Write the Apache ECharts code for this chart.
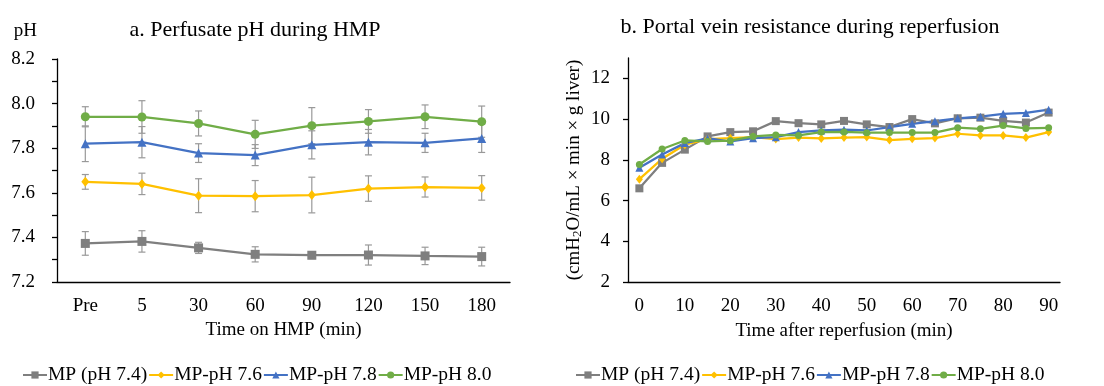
<!DOCTYPE html>
<html>
<head>
<meta charset="utf-8">
<script src="https://cdn.jsdelivr.net/npm/echarts@6/dist/echarts.min.js"></script>
<style>
html,body{margin:0;padding:0;background:#fff;}
#chart{width:1104px;height:386px;}
</style>
</head>
<body>
<div id="chart"></div>
<script>
// ---------- data ----------
const seriesNames = ['MP (pH 7.4)', 'MP-pH 7.6', 'MP-pH 7.8', 'MP-pH 8.0'];

// a. Perfusate pH during HMP
const hmpCategories = ['Pre', '5', '30', '60', '90', '120', '150', '180'];
const ph74 = [7.373, 7.382, 7.353, 7.324, 7.320, 7.321, 7.317, 7.314];
const ph74Err = [0.053, 0.048, 0.025, 0.034, 0.015, 0.045, 0.039, 0.042];
const ph76 = [7.649, 7.640, 7.587, 7.585, 7.590, 7.619, 7.626, 7.622];
const ph76Err = [0.033, 0.048, 0.076, 0.070, 0.080, 0.057, 0.045, 0.055];
const ph78 = [7.820, 7.827, 7.778, 7.769, 7.815, 7.827, 7.824, 7.844];
const ph78Err = [0.080, 0.070, 0.042, 0.047, 0.063, 0.057, 0.043, 0.063];
const ph80 = [7.941, 7.940, 7.911, 7.862, 7.901, 7.920, 7.941, 7.919];
const ph80Err = [0.045, 0.073, 0.056, 0.063, 0.081, 0.053, 0.053, 0.070];
const phTickLabels = [7.2, 7.4, 7.6, 7.8, 8.0, 8.2];

// b. Portal vein resistance during reperfusion
const reperfCategories = ['0','5','10','15','20','25','30','35','40','45','50','55','60','65','70','75','80','85','90'];
const res74 = [6.60, 7.85, 8.50, 9.15, 9.36, 9.40, 9.90, 9.80, 9.74, 9.91, 9.74, 9.61, 10.00, 9.79, 10.04, 10.07, 9.91, 9.83, 10.32];
const res76 = [7.05, 8.05, 8.74, 9.02, 9.06, 9.12, 9.02, 9.09, 9.05, 9.09, 9.12, 8.97, 9.03, 9.07, 9.28, 9.20, 9.20, 9.09, 9.36];
const res78 = [7.61, 8.26, 8.82, 9.06, 8.90, 9.06, 9.11, 9.36, 9.44, 9.48, 9.44, 9.60, 9.77, 9.90, 10.04, 10.12, 10.26, 10.30, 10.46];
const res80 = [7.77, 8.53, 8.95, 8.90, 8.94, 9.15, 9.22, 9.20, 9.36, 9.37, 9.33, 9.34, 9.34, 9.34, 9.58, 9.52, 9.68, 9.54, 9.57];
const resTickLabels = [2, 4, 6, 8, 10, 12];

// ---------- style ----------
const FONT = '"Liberation Serif", "Times New Roman", serif';
const colors = ['#7f7f7f', '#ffc000', '#4472c4', '#70ad47'];
const symbols = ['rect', 'diamond', 'triangle', 'circle'];
const symSizeA = [9, [8, 10], 9, 9];
const symSizeB = [8, [7, 9], 8, 7];

function lineSeries(name, data, i, axisIdx, sizes) {
  return {
    name: name, type: 'line', data: data,
    xAxisIndex: axisIdx, yAxisIndex: axisIdx,
    symbol: symbols[i], symbolSize: sizes[i],
    lineStyle: { color: colors[i], width: 2.25 },
    itemStyle: { color: colors[i] },
    emphasis: { disabled: true },
    animation: false, z: 3
  };
}

function errSeries(means, errs) {
  return {
    type: 'custom', xAxisIndex: 0, yAxisIndex: 0,
    data: means.map((m, i) => [i, m, errs[i]]),
    encode: { x: 0, y: 1 },
    animation: false, silent: true, z: 2,
    renderItem: function (params, api) {
      const x = api.value(0), m = api.value(1), e = api.value(2);
      const t = api.coord([x, m + e]), b = api.coord([x, m - e]);
      const hw = 3.5;
      const st = { stroke: '#999999', lineWidth: 1.2 };
      return { type: 'group', children: [
        { type: 'line', shape: { x1: t[0], y1: t[1], x2: b[0], y2: b[1] }, style: st },
        { type: 'line', shape: { x1: t[0] - hw, y1: t[1], x2: t[0] + hw, y2: t[1] }, style: st },
        { type: 'line', shape: { x1: b[0] - hw, y1: b[1], x2: b[0] + hw, y2: b[1] }, style: st }
      ]};
    }
  };
}

const axisLineStyle = { show: true, lineStyle: { color: '#000', width: 1.3 } };
const labelStyle = { color: '#000', fontFamily: FONT, fontSize: 19 };
const legendBase = {
  orient: 'horizontal', top: 365, itemWidth: 24, itemHeight: 9, itemGap: 1, padding: 0,
  data: seriesNames,
  textStyle: { color: '#000', fontFamily: FONT, fontSize: 19.5, padding: [0, 0, 0, -4] }
};

const chart = echarts.init(document.getElementById('chart'), null, { renderer: 'canvas' });
chart.setOption({
  backgroundColor: '#fff',
  animation: false,
  graphic: [
    { type: 'text', x: 255, y: 30, style: { text: 'a. Perfusate pH during HMP', font: '22px ' + FONT, fill: '#000', textAlign: 'center', textVerticalAlign: 'middle' } },
    { type: 'text', x: 810, y: 27, style: { text: 'b. Portal vein resistance during reperfusion', font: '22px ' + FONT, fill: '#000', textAlign: 'center', textVerticalAlign: 'middle' } }
  ],
  legend: [
    Object.assign({ left: 22 }, legendBase),
    Object.assign({ left: 575 }, legendBase)
  ],
  grid: [
    { left: 57, top: 59, width: 453, height: 223, containLabel: false },
    { left: 628, top: 58, width: 432, height: 224, containLabel: false }
  ],
  xAxis: [
    {
      gridIndex: 0, type: 'category', data: hmpCategories, boundaryGap: true,
      axisLine: axisLineStyle, axisTick: { show: false },
      axisLabel: Object.assign({ margin: 15 }, labelStyle),
      splitLine: { show: false },
      name: 'Time on HMP (min)', nameLocation: 'middle', nameGap: 38,
      nameTextStyle: { color: '#000', fontFamily: FONT, fontSize: 19 }
    },
    {
      gridIndex: 1, type: 'category', data: reperfCategories, boundaryGap: true,
      axisLine: axisLineStyle, axisTick: { show: false },
      axisLabel: Object.assign({ margin: 15, interval: 1 }, labelStyle),
      splitLine: { show: false },
      name: 'Time after reperfusion (min)', nameLocation: 'middle', nameGap: 40,
      nameTextStyle: { color: '#000', fontFamily: FONT, fontSize: 19 }
    }
  ],
  yAxis: [
    {
      gridIndex: 0, type: 'value', min: 7.2, max: 8.2, interval: 0.1,
      axisLine: axisLineStyle,
      axisTick: { show: true, length: 5, lineStyle: { color: '#000', width: 1.3 } },
      axisLabel: Object.assign({ margin: 22, customValues: phTickLabels, formatter: v => Number(v).toFixed(1) }, labelStyle),
      splitLine: { show: false },
      name: 'pH', nameLocation: 'end', nameGap: 18,
      nameTextStyle: { color: '#000', fontFamily: FONT, fontSize: 19, align: 'right', padding: [0, 20, 0, 0] }
    },
    {
      gridIndex: 1, type: 'value', min: 2, max: 13, interval: 2,
      axisLine: axisLineStyle,
      axisTick: { show: true, length: 5, customValues: resTickLabels, lineStyle: { color: '#000', width: 1.3 } },
      axisLabel: Object.assign({ margin: 18, customValues: resTickLabels }, labelStyle),
      splitLine: { show: false },
      name: '(cmH{s|2}O/mL × min × g liver)', nameLocation: 'middle', nameGap: 44,
      nameTextStyle: {
        color: '#000', fontFamily: FONT, fontSize: 19,
        rich: { s: { fontFamily: FONT, fontSize: 13, lineHeight: 7, verticalAlign: 'bottom', color: '#000' } }
      }
    }
  ],
  series: [
    lineSeries(seriesNames[0], ph74, 0, 0, symSizeA),
    lineSeries(seriesNames[1], ph76, 1, 0, symSizeA),
    lineSeries(seriesNames[2], ph78, 2, 0, symSizeA),
    lineSeries(seriesNames[3], ph80, 3, 0, symSizeA),
    errSeries(ph74, ph74Err),
    errSeries(ph76, ph76Err),
    errSeries(ph78, ph78Err),
    errSeries(ph80, ph80Err),
    lineSeries(seriesNames[0], res74, 0, 1, symSizeB),
    lineSeries(seriesNames[1], res76, 1, 1, symSizeB),
    lineSeries(seriesNames[2], res78, 2, 1, symSizeB),
    lineSeries(seriesNames[3], res80, 3, 1, symSizeB)
  ]
});
</script>
</body>
</html>
